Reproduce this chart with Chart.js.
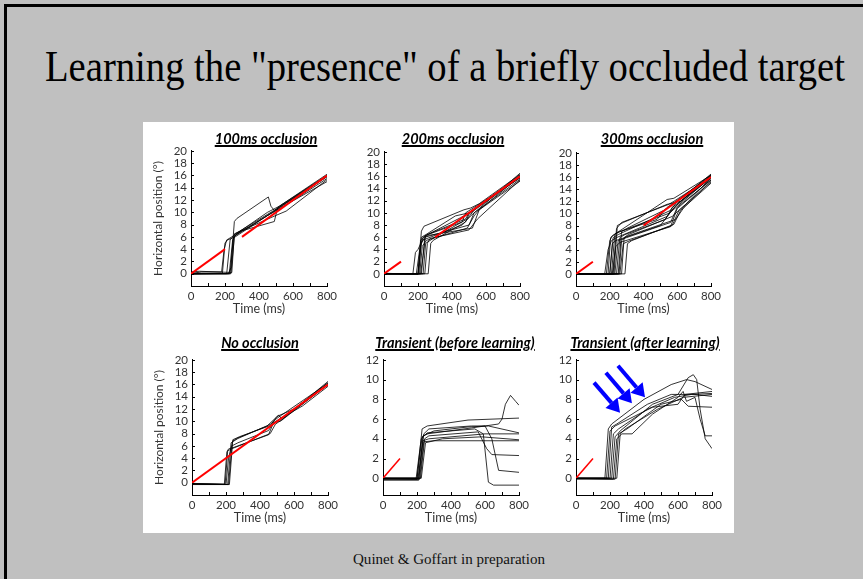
<!DOCTYPE html>
<html>
<head>
<meta charset="utf-8">
<script src="https://cdn.jsdelivr.net/npm/chart.js@4.4.0/dist/chart.umd.min.js"></script>
<style>
html, body { margin: 0; padding: 0; }
body { width: 863px; height: 579px; background: #c0c0c0; position: relative; overflow: hidden; }
#frame { position: absolute; left: 4px; top: 4px; width: 900px; height: 600px; border-top: 3px solid #000; border-left: 3px solid #000; }
#slideTitle { position: absolute; left: 45px; top: 45px; font-family: "Liberation Serif", serif; font-size: 44px; line-height: 44px; white-space: nowrap; transform-origin: 0 0; color: #000; }
#caption { position: absolute; left: 353px; top: 553px; font-family: "Liberation Serif", serif; font-size: 14px; line-height: 14px; white-space: nowrap; transform-origin: 0 0; color: #111; }
#panel { position: absolute; left: 143px; top: 122px; width: 591px; height: 411px; background: #fff; }
.sub { position: absolute; }
.ptitle { position: absolute; font-family: Lato, sans-serif; font-weight: bold; font-style: italic; font-size: 14.5px; line-height: 16px; text-decoration: underline; text-decoration-thickness: 1.5px; transform: translate(-50%, -50%); white-space: nowrap; color: #000; }
</style>
</head>
<body>
<div id="frame"></div>
<span id="slideTitle">Learning the "presence" of a briefly occluded target</span>
<div id="panel"></div>
<span id="caption">Quinet &amp; Goffart in preparation</span>

<script>
// --- DATA (x in ms, y in degrees) ---
const xTickVals = [0, 100, 200, 300, 400, 500, 600, 700, 800];
const yTicks20 = [0, 2, 4, 6, 8, 10, 12, 14, 16, 18, 20];
const yTicks12 = [0, 2, 4, 6, 8, 10, 12];

const panelTitles = ["100ms occlusion", "200ms occlusion", "300ms occlusion",
                     "No occlusion", "Transient (before learning)", "Transient (after learning)"];

// red target segments
const occ100Target = [[[0, 0], [200, 4]], [[300, 6], [800, 16]]];
const occ200Target = [[[0, 0], [100, 2]], [[300, 6], [800, 16]]];
const occ300Target = [[[0, 0], [100, 2]], [[400, 8], [800, 16]]];
const noOccTarget = [[[0, 0], [800, 16]]];
const beforeTarget = [[[0, 0], [100, 2]]];
const afterTarget = [[[0, 0], [100, 2]]];

// eye traces
const occ100Traces = [
    [[0,0],[60,0.3],[180,0.3],[195,4],[210,5.5],[240,6],[450,10],[520,11],[800,16]],
    [[0,0],[220,0],[235,1],[255,8.5],[270,9],[455,12.5],[470,11],[490,10.3],[800,15.8]],
    [[0,0],[230,0],[250,6],[300,7],[490,8.5],[510,10.8],[520,11],[800,16.2]],
    [[0,0.1],[225,0],[245,5.5],[260,6.2],[480,10],[800,15]],
    [[0,-0.1],[235,0],[255,6],[270,6.5],[470,9.8],[520,10.5],[800,15.5]],
    [[0,0],[210,0],[230,5.5],[260,6.5],[500,10.5],[800,16]],
    [[0,0],[185,0.1],[200,5],[215,5.5],[260,6],[490,10.2],[800,15.8]],
    [[0,0.3],[50,0.4],[240,0.2],[255,6.5],[500,9.5],[560,10.2],[800,15.3]]
];
const occ200Traces = [
    [[0,0],[200,0],[220,7],[235,7.8],[470,10.5],[510,10.8],[560,11.5],[800,16.3]],
    [[0,0],[190,0],[210,4],[230,6],[260,6.5],[480,9],[500,10],[800,16]],
    [[0,0],[200,0],[220,5],[240,6],[500,8],[530,10],[800,15.5]],
    [[0,0],[210,0],[225,4.5],[250,5.5],[490,7.5],[530,9.5],[560,10.5],[800,16]],
    [[0,0],[260,0],[275,5],[290,5.5],[480,8.5],[500,9.8],[800,15.8]],
    [[0,0],[170,0],[185,3.5],[200,4],[225,5.5],[460,8],[510,9.5],[800,16.5]],
    [[0,0],[220,0],[240,6],[260,6.3],[520,7.5],[560,10.5],[800,15.2]],
    [[0,0],[230,0],[245,5],[300,6],[490,9],[540,10.8],[800,16]],
    [[0,0],[205,0],[220,6],[250,6.5],[420,9.5],[500,10],[800,16.2]],
    [[0,0],[240,0],[255,5],[270,5.8],[500,7.2],[550,9],[800,15.4]],
    [[0,0],[215,0],[230,3],[245,6.3],[460,8.5],[480,10],[800,15.7]],
    [[0,0.1],[200,-0.1],[215,5.5],[240,6.2],[450,9.2],[520,10.3],[800,16]]
];
const occ300Traces = [
    [[0,0],[180,0],[200,5.5],[215,6.3],[540,12.3],[580,12.5],[800,16.3]],
    [[0,0],[200,0],[220,6],[250,6.5],[560,10.5],[600,12],[800,16.5]],
    [[0,0],[220,0],[240,7.5],[270,8.5],[550,11.5],[580,12],[800,16]],
    [[0,0],[230,0],[250,5.5],[300,6],[560,8.5],[600,11],[800,15.5]],
    [[0,0],[260,0],[280,5],[320,5.5],[570,8],[610,10.5],[800,15.2]],
    [[0,0],[290,0],[305,5],[330,5.5],[580,8.2],[620,10.5],[800,15]],
    [[0,0],[170,0],[190,4],[210,5.5],[240,6],[540,9.5],[590,11.2],[800,16]],
    [[0,0],[210,0],[230,6.5],[260,7],[550,10],[600,11.5],[800,16.2]],
    [[0,0],[240,0],[260,6],[290,6.5],[530,9],[570,11],[800,15.8]],
    [[0,0],[200,0],[215,5],[235,5.5],[500,8],[560,10.2],[800,16]],
    [[0,0],[250,0],[270,7],[300,7.5],[520,10.5],[590,11.8],[800,16.4]],
    [[0,0],[215,0],[235,4.5],[260,5.2],[560,7.8],[600,10.8],[800,15.6]],
    [[0,0],[190,0],[205,6],[240,6.8],[480,9],[540,11],[800,16.1]],
    [[0,0],[270,0],[285,6],[310,6.5],[570,9.5],[650,11.5],[800,15.9]],
    [[0,0],[225,0],[245,8],[280,8.5],[540,11.5],[620,12],[800,16.3]],
    [[0,0],[255,0],[270,5.5],[300,6.2],[590,9],[640,11],[800,15.4]]
];
const noOccTraces = [
    [[0,-0.2],[190,-0.3],[205,5],[215,5.5],[250,5.8],[450,7.8],[480,9.8],[520,10],[800,16]],
    [[0,-0.2],[200,-0.3],[215,4],[240,6.8],[270,7.3],[440,9.2],[490,10.5],[510,11],[530,10.3],[800,16.5]],
    [[0,-0.1],[210,-0.3],[230,6.5],[270,7.2],[460,9.5],[500,10.5],[800,16.2]],
    [[0,-0.2],[215,-0.3],[235,6],[270,6.5],[450,8.5],[480,9.8],[650,12.5],[800,15.7]],
    [[0,-0.2],[195,-0.2],[210,5.2],[240,5.6],[460,8],[490,9.5],[800,16]],
    [[0,-0.3],[220,-0.3],[240,7],[280,7.5],[460,9.3],[500,10.8],[600,12],[800,16.3]]
];
const beforeTraces = [
    [[0,0],[200,0],[230,5],[260,5.3],[500,5.9],[800,6.1]],
    [[0,-0.2],[210,-0.2],[240,4.5],[270,5],[520,5.3],[600,5.3],[640,4],[680,0.8],[800,0.6]],
    [[0,0],[195,0],[225,4],[260,4.6],[540,5],[590,4.5],[620,-0.4],[650,-0.7],[800,-0.7]],
    [[0,0],[220,0],[245,4],[270,4.3],[560,4.7],[610,3],[640,2.4],[800,2.3]],
    [[0,-0.1],[205,-0.1],[235,3.8],[270,4],[600,4.5],[800,4.5]],
    [[0,-0.1],[215,-0.1],[240,3.7],[300,3.8],[800,3.8]],
    [[0,0],[200,-0.1],[230,4.2],[260,4.5],[520,5.1],[680,5.5],[700,6],[720,7.5],[750,8.4],[780,7.8],[800,7.4]],
    [[0,0],[225,0],[250,3.6],[350,4],[580,4.2],[800,3.9]],
    [[0,0],[210,0],[235,4.3],[300,4.8],[500,5.2],[620,5.3],[800,4.6]]
];
const afterTraces = [
    [[0,0],[170,0],[190,5],[210,5.5],[400,8],[560,9.5],[650,10],[700,9.8],[800,9]],
    [[0,0],[200,0],[220,4.5],[250,5],[420,7],[580,8.2],[680,8.5],[800,8.6]],
    [[0,0],[210,0],[230,4.2],[260,4.8],[450,7.5],[600,8.5],[660,10.2],[690,10.5],[710,10],[730,7],[760,4],[800,3]],
    [[0,-0.1],[220,-0.1],[240,4],[270,4.5],[330,4.5],[450,6.5],[600,8.2],[630,8.8],[650,7.8],[700,8.2],[730,6],[760,4.3],[800,4.3]],
    [[0,0],[230,-0.1],[250,4.5],[300,5],[500,7.5],[620,8],[660,7.3],[800,7.2]],
    [[0,0],[190,0],[210,5.2],[240,5.5],[420,7.5],[560,8.5],[700,8.5],[800,8.3]],
    [[0,0],[240,0],[260,4.5],[290,5],[480,7],[630,8.2],[800,8.5]],
    [[0,0],[180,0],[200,4.8],[230,5.3],[450,7.2],[600,7.5],[640,8.5],[800,8.8]]
];

// blue arrows in the last panel (data coords)
const arrowStarts = [[106, 9.7], [176, 10.7], [247, 11.4]];
const arrowEnds = [[259, 6.65], [329, 7.6], [406, 8.2]];

// --- LAYOUT (page pixels of each plot's axes box) ---
const boxes = [
    { L: 191, R: 327, T: 150, B: 286, titleX: 266, titleY: 139 },
    { L: 384, R: 520, T: 151, B: 286, titleX: 453, titleY: 139 },
    { L: 576, R: 711, T: 152, B: 286, titleX: 652, titleY: 139 },
    { L: 192, R: 328, T: 359, B: 495, titleX: 260, titleY: 343 },
    { L: 383, R: 519, T: 359, B: 495, titleX: 455, titleY: 343 },
    { L: 576, R: 712, T: 359, B: 495, titleX: 645, titleY: 343 }
];
const Y_W = 42, X_H = 32, PAD_T = 10, PAD_R = 14;

// --- PLUGINS ---
const innerTicks = {
    id: 'innerTicks',
    afterDraw(chart) {
        const ctx = chart.ctx, xs = chart.scales.x, ys = chart.scales.y, a = chart.chartArea;
        ctx.save();
        ctx.strokeStyle = '#000';
        ctx.lineWidth = 1;
        ctx.beginPath();
        xs.ticks.forEach(t => {
            const px = Math.round(xs.getPixelForValue(t.value)) + 0.5;
            ctx.moveTo(px, a.bottom);
            ctx.lineTo(px, a.bottom - 3);
        });
        ys.ticks.forEach(t => {
            const py = Math.round(ys.getPixelForValue(t.value)) + 0.5;
            ctx.moveTo(a.left, py);
            ctx.lineTo(a.left + 3, py);
        });
        ctx.stroke();
        ctx.restore();
    }
};

const arrowPlugin = {
    id: 'arrows',
    afterDatasetsDraw(chart) {
        const ctx = chart.ctx, xs = chart.scales.x, ys = chart.scales.y;
        ctx.save();
        ctx.strokeStyle = '#0000ff';
        ctx.fillStyle = '#0000ff';
        ctx.lineWidth = 4;
        arrowStarts.forEach((s, i) => {
            const e = arrowEnds[i];
            const x0 = xs.getPixelForValue(s[0]), y0 = ys.getPixelForValue(s[1]);
            const x1 = xs.getPixelForValue(e[0]), y1 = ys.getPixelForValue(e[1]);
            const ang = Math.atan2(y1 - y0, x1 - x0);
            const head = 13, hw = 8;
            const bx = x1 - head * Math.cos(ang), by = y1 - head * Math.sin(ang);
            ctx.beginPath();
            ctx.moveTo(x0, y0);
            ctx.lineTo(bx, by);
            ctx.stroke();
            ctx.beginPath();
            ctx.moveTo(x1, y1);
            ctx.lineTo(bx + hw * Math.sin(ang), by - hw * Math.cos(ang));
            ctx.lineTo(bx - hw * Math.sin(ang), by + hw * Math.cos(ang));
            ctx.closePath();
            ctx.fill();
        });
        ctx.restore();
    }
};

// --- BUILD CHARTS ---
function makeChart(idx, traces, target, yMin, yMax, yTicks, showYTitle, extra) {
    const b = boxes[idx];
    const w = Y_W + (b.R - b.L) + PAD_R;
    const h = PAD_T + (b.B - b.T) + X_H;

    const wrap = document.createElement('div');
    wrap.className = 'sub';
    wrap.style.left = (b.L - Y_W) + 'px';
    wrap.style.top = (b.T - PAD_T) + 'px';
    const canvas = document.createElement('canvas');
    canvas.width = w;
    canvas.height = h;
    wrap.appendChild(canvas);
    document.body.appendChild(wrap);

    const title = document.createElement('div');
    title.className = 'ptitle';
    title.style.left = b.titleX + 'px';
    title.style.top = b.titleY + 'px';
    title.textContent = panelTitles[idx];
    document.body.appendChild(title);

    const datasets = [];
    target.forEach(seg => {
        datasets.push({
            data: seg.map(p => ({ x: p[0], y: p[1] })),
            borderColor: '#ff0000',
            borderWidth: idx >= 4 ? 1.5 : 2,
            pointRadius: 0,
            tension: 0
        });
    });
    traces.forEach(tr => {
        datasets.push({
            data: tr.map(p => ({ x: p[0], y: p[1] })),
            borderColor: 'rgba(0,0,0,0.8)',
            borderWidth: 1,
            pointRadius: 0,
            tension: 0
        });
    });

    const tickFont = { family: 'Lato', size: 11.5 };
    new Chart(canvas.getContext('2d'), {
        type: 'line',
        data: { datasets },
        options: {
            responsive: false,
            animation: false,
            layout: { padding: { top: PAD_T, right: PAD_R, left: 0, bottom: 0 } },
            plugins: { legend: { display: false }, tooltip: { enabled: false } },
            scales: {
                x: {
                    type: 'linear', min: 0, max: 800,
                    afterBuildTicks: s => { s.ticks = xTickVals.map(v => ({ value: v })); },
                    afterFit: s => { s.height = X_H; },
                    grid: { display: false, drawTicks: false, tickLength: 0 },
                    border: { display: true, color: '#000', width: 1 },
                    ticks: {
                        font: tickFont, color: '#333', padding: 3, maxRotation: 0, autoSkip: false,
                        callback: v => (v % 200 === 0 ? String(v) : '')
                    },
                    title: { display: true, text: 'Time (ms)', font: { family: 'Lato', size: 12.5 }, color: '#333', padding: { top: 0, bottom: 2 } }
                },
                y: {
                    type: 'linear', min: yMin, max: yMax,
                    afterBuildTicks: s => { s.ticks = yTicks.map(v => ({ value: v })); },
                    afterFit: s => { s.width = Y_W; },
                    grid: { display: false, drawTicks: false, tickLength: 0 },
                    border: { display: true, color: '#000', width: 1 },
                    ticks: { font: tickFont, color: '#333', padding: 4, autoSkip: false },
                    title: {
                        display: showYTitle, text: 'Horizontal position (°)',
                        font: { family: 'Lato', size: 12 }, color: '#333', padding: { top: 2, bottom: 0 }
                    }
                }
            }
        },
        plugins: extra ? [innerTicks, extra] : [innerTicks]
    });
}

makeChart(0, occ100Traces, occ100Target, -2, 20, yTicks20, true, null);
makeChart(1, occ200Traces, occ200Target, -2, 20, yTicks20, false, null);
makeChart(2, occ300Traces, occ300Target, -2, 20, yTicks20, false, null);
makeChart(3, noOccTraces, noOccTarget, -2, 20, yTicks20, true, null);
makeChart(4, beforeTraces, beforeTarget, -1.7, 12, yTicks12, false, null);
makeChart(5, afterTraces, afterTarget, -1.7, 12, yTicks12, false, arrowPlugin);

// fit slide texts to their widths in the reference
function fitWidth(id, target) {
    const el = document.getElementById(id);
    const w = el.getBoundingClientRect().width;
    el.style.transform = 'scaleX(' + (target / w) + ')';
}
fitWidth('slideTitle', 800);
fitWidth('caption', 192);
</script>
</body>
</html>
